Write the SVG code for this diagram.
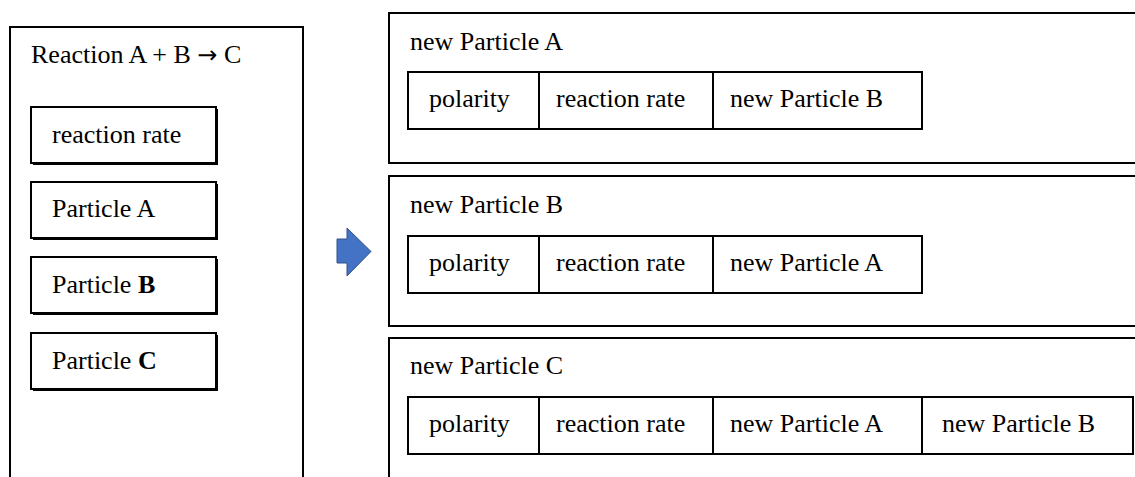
<svg xmlns="http://www.w3.org/2000/svg" width="1135" height="477" viewBox="0 0 1135 477">
<style>
.box{fill:#fff;stroke:#000;stroke-width:2}
.shadow{fill:#000}
.t{font-family:"Liberation Serif","Times New Roman",serif;font-size:26px;fill:#000}
.b{font-weight:bold}
.arr{font-family:"DejaVu Sans",sans-serif;font-size:24px}
</style>
<rect width="1135" height="477" fill="#fff"/>
<g id="reaction">
<rect class="box" x="10" y="27" width="293" height="470"/>
<text class="t" x="31" y="63">Reaction A + B <tspan class="arr">→</tspan> C</text>
</g>
<g id="reaction-rate">
<rect class="shadow" x="33" y="109" width="185" height="56"/>
<rect class="box" x="31" y="107" width="185" height="56"/>
<text class="t" x="52" y="143">reaction rate</text>
</g>
<g id="particle-a">
<rect class="shadow" x="33" y="184" width="185" height="56"/>
<rect class="box" x="31" y="182" width="185" height="56"/>
<text class="t" x="52" y="217">Particle A</text>
</g>
<g id="particle-b">
<rect class="shadow" x="33" y="259" width="185" height="56"/>
<rect class="box" x="31" y="257" width="185" height="56"/>
<text class="t" x="52" y="293">Particle <tspan class="b">B</tspan></text>
</g>
<g id="particle-c">
<rect class="shadow" x="33" y="335" width="185" height="56"/>
<rect class="box" x="31" y="333" width="185" height="56"/>
<text class="t" x="52" y="369">Particle <tspan class="b">C</tspan></text>
</g>
<g id="connectors">
<path d="M337,239 H347 V228 L371,251.5 L347,276 V263 H337 Z" fill="#4472C4" stroke="#2F528F" stroke-width="1"/>
</g>
<g id="new-particle-a">
<rect class="box" x="389" y="13" width="760" height="150"/>
<text class="t" x="410" y="50">new Particle A</text>
<rect class="box" x="408" y="72" width="131" height="57"/>
<rect class="box" x="539" y="72" width="174" height="57"/>
<rect class="box" x="713" y="72" width="209" height="57"/>
<text class="t" x="429" y="107">polarity</text>
<text class="t" x="556" y="107">reaction rate</text>
<text class="t" x="730" y="107">new Particle B</text>
</g>
<g id="new-particle-b">
<rect class="box" x="389" y="176" width="760" height="150"/>
<text class="t" x="410" y="213">new Particle B</text>
<rect class="box" x="408" y="236" width="131" height="57"/>
<rect class="box" x="539" y="236" width="174" height="57"/>
<rect class="box" x="713" y="236" width="209" height="57"/>
<text class="t" x="429" y="271">polarity</text>
<text class="t" x="556" y="271">reaction rate</text>
<text class="t" x="730" y="271">new Particle A</text>
</g>
<g id="new-particle-c">
<rect class="box" x="389" y="338" width="760" height="160"/>
<text class="t" x="410" y="374">new Particle C</text>
<rect class="box" x="408" y="397" width="131" height="57"/>
<rect class="box" x="539" y="397" width="174" height="57"/>
<rect class="box" x="713" y="397" width="209" height="57"/>
<rect class="box" x="922" y="397" width="211" height="57"/>
<text class="t" x="429" y="432">polarity</text>
<text class="t" x="556" y="432">reaction rate</text>
<text class="t" x="730" y="432">new Particle A</text>
<text class="t" x="942" y="432">new Particle B</text>
</g>
</svg>
